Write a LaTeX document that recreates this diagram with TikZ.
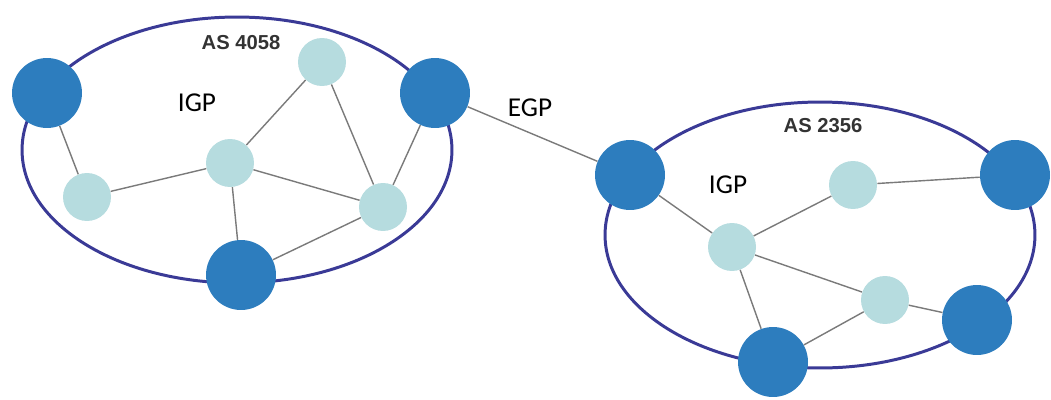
\documentclass[tikz,border=0pt]{standalone}
\usepackage{fontspec}
\setmainfont{Carlito}
\newfontfamily\asfont{Liberation Sans}
\usetikzlibrary{calc}
\definecolor{router}{HTML}{2D7DBE}
\definecolor{host}{HTML}{B6DCDF}
\definecolor{border}{HTML}{3A3A96}
\definecolor{wire}{HTML}{7A7A7A}

\begin{document}
\begin{tikzpicture}[x=0.02cm, y=-0.02cm,
    router/.style={circle, fill=router, minimum size=1.4cm, inner sep=0pt},
    host/.style={circle, fill=host, minimum size=0.96cm, inner sep=0pt},
    link/.style={wire, line width=0.8pt},
    aslabel/.style={font=\asfont\bfseries\fontsize{11.5}{13}\selectfont, text=black!80},
    proto/.style={font=\fontsize{15.5}{18}\selectfont}]
    \useasboundingbox (0,0) rectangle (1051,399);
    % autonomous systems
    \draw[border, line width=1.7pt] (237,150) ellipse [x radius=4.3cm, y radius=2.66cm];
    \draw[border, line width=1.7pt] (820,235) ellipse [x radius=4.3cm, y radius=2.66cm];
    %
    \node[aslabel] (asA) at (241,43) {AS 4058};
    \node[aslabel] (asB) at (823,126) {AS 2356};
    \node[proto] (igpA) at (197,103) {IGP};
    \node[proto] (igpB) at (728,185) {IGP};
    \node[proto] (egp) at (530,108) {EGP};
    % AS 4058
    \node[router] (a1) at (47,93) {};
    \node[router] (a2) at (435,93) {};
    \node[router] (a3) at (241,275) {};
    \node[host] (h1) at (322,62) {};
    \node[host] (h2) at (87,197) {};
    \node[host] (h3) at (230,163) {};
    \node[host] (h4) at (383,207) {};
    % AS 2356
    \node[router] (b1) at (630,175) {};
    \node[router] (b2) at (1015,175) {};
    \node[router] (b3) at (977,320) {};
    \node[router] (b4) at (773,362) {};
    \node[host] (k1) at (853,185) {};
    \node[host] (k2) at (732,247) {};
    \node[host] (k3) at (885,300) {};
    %
    \draw[link] (a1) -- (h2);
    \draw[link] (h2) -- (h3);
    \draw[link] (h1) -- (h3);
    \draw[link] (h1) -- (h4);
    \draw[link] (h3) -- (h4);
    \draw[link] (h3) -- (a3);
    \draw[link] (a3) -- (h4);
    \draw[link] (a2) -- (h4);
    %
    \draw[link] (a2) -- (b1);
    %
    \draw[link] (b1) -- (k2);
    \draw[link] (k2) -- (k1);
    \draw[link] (k1) -- (b2);
    \draw[link] (k2) -- (k3);
    \draw[link] (k2) -- (b4);
    \draw[link] (b4) -- (k3);
    \draw[link] (k3) -- (b3);
\end{tikzpicture}
\end{document}
